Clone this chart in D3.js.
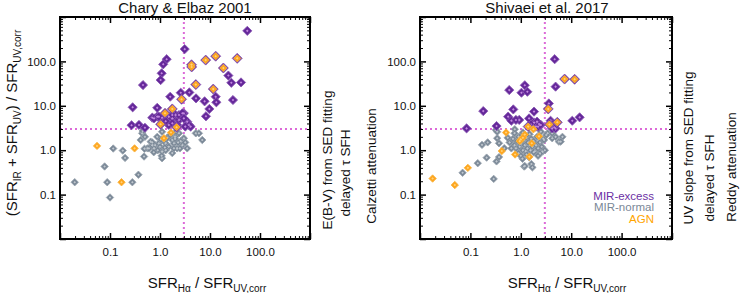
<!DOCTYPE html>
<html><head><meta charset="utf-8">
<script src="https://cdn.jsdelivr.net/npm/d3@7/dist/d3.min.js"></script>
<style>
body{margin:0;background:#fff;}
text{font-family:"Liberation Sans",Arial,Helvetica,sans-serif;fill:#111;}
</style></head><body>
<svg id="c" width="740" height="293"></svg>
<script>
// ---------- DATA ----------
const titles = ["Chary & Elbaz 2001", "Shivaei et al. 2017"];
const tickValuesMajor = [0.01, 0.1, 1, 10, 100, 1000];
const tickLabels = [0.1, 1, 10, 100];
const legendLabels = ["MIR-excess", "MIR-normal", "AGN"];
const sideLabelsLeft = ["E(B-V) from SED fitting", "delayed \u03c4 SFH", "Calzetti attenuation"];
const sideLabelsRight = ["UV slope from SED fitting", "delayed \u03c4 SFH", "Reddy attenuation"];
const thresholdX = 3, thresholdY = 3;

// Chary & Elbaz panel
const ceExcessX = [55.7,3.12,1.36,1.16,1.08,1.03,0.457,0.284,0.88,1.6,2.6,3.86,5.25,7.8,9.7,8.3,13,13.4,23.3,26.7,41.7,28.8,0.27,0.38,0.5,0.70,0.88,1.1,1.5,2.06,3.0,1.76,2.4,3.5,3.8,4.1,3.2,1.5,0.76,0.95,1.76,2.4,2.8,3.0,1.76,1.3,2.2];
const ceExcessY = [487,189,112,86,54,38,29.3,9.25,9.0,16,19.7,20,14.7,12.6,8.5,5.8,16,12,48,33,33.6,13.5,3.65,3.7,3.2,5.4,5.7,5.4,5.7,6.2,6.8,5.2,4.8,4.4,3.7,3.4,3.4,3.7,5.2,5.7,6.2,6.2,6.8,5.2,4.05,4.5,3.7];
const ceAgnExcessX = [4.27,4.3,8.2,13,35,18.5,5.2,11.6,2.7,1.76,1.26,1.03,2.15];
const ceAgnExcessY = [84,75,107,131,117,71,30,23.8,14,8.5,6.8,3.84,3.3];
const ceAgnNormalX = [1.66,1.2,0.055,0.31,0.17];
const ceAgnNormalY = [2.5,1.86,1.25,1.1,0.19];
const ceNormalX = [0.0197,0.088,0.28,0.078,0.1,0.37,0.116,0.18,0.2,0.48,0.49,0.44,0.5,0.41,0.65,0.88,0.95,0.56,0.76,1.1,1.1,1.08,1.76,1.9,2.2,1.76,3.0,3.5,5.2,6.0,7.0,2.4,1.3,1.5,0.6,0.7,0.8,1.0,1.2,1.4,2.0,2.6,2.8,2.3,1.6,1.1,0.9,1.3,0.7,2.5,2.0,3.2,1.9,0.45,0.75,1.05,1.25,2.1];
const ceNormalY = [0.19,0.19,0.19,0.43,0.086,0.28,1.09,0.98,0.67,0.72,1.08,2.4,2.0,1.7,1.56,2.0,1.43,1.1,1.1,0.93,0.66,0.75,1.7,1.43,1.1,0.86,1.86,1.1,2.4,2.4,1.7,2.4,1.43,1.2,1.1,1.3,1.3,1.2,1.6,1.9,2.0,1.6,1.3,1.5,2.2,2.6,1.0,1.0,1.5,1.1,1.8,1.5,1.1,2.7,0.9,1.75,1.15,2.6];

// Shivaei panel
const shExcessX = [4.7,4.9,1.2,1.03,1.35,0.59,0.18,0.71,1.83,3.6,0.56,0.65,0.93,1.46,1.83,2.3,3.9,4.2,4.9,10.5,14.7,0.084,0.33,0.8,2.1,2.5,4.6,1.6,2.0,2.2,2.4,4.0];
const shExcessY = [112,27,29,19.7,20.7,22.6,7.6,8.3,7.4,11.3,5.7,4.6,4.8,5.2,4.2,3.9,4.6,3.1,3.1,4.6,5.5,3.1,3.5,4.8,4.4,3.7,3.3,3.8,3.4,3.4,3.7,4.0];
const shAgnExcessX = [7.4,11.7,3.5,3.7,5.3,1.4];
const shAgnExcessY = [40,39.5,8.5,3.8,4.25,3.4];
const shAgnNormalX = [1.78,0.51,1.2,2.3,1.0,1.65,0.0178,0.049,0.089,0.42,0.77,1.48,0.95,1.1];
const shAgnNormalY = [2.96,2.5,2.25,2.05,1.75,1.43,0.23,0.164,0.40,0.96,0.80,0.71,1.6,1.9];
const shNormalX = [0.07,0.14,0.21,0.29,0.33,0.37,1.16,1.62,1.7,1.08,2.7,5.7,0.17,0.22,0.34,0.37,0.47,0.32,4.2,4.9,6.7,6.2,3.4,1.2,0.6,0.7,0.75,0.8,0.85,0.9,0.95,1.0,1.05,1.1,1.15,1.2,1.25,1.3,1.35,1.4,1.5,1.55,1.6,1.7,1.8,1.9,2.0,2.1,2.2,2.4,2.6,2.8,3.0,3.2,0.65,0.9,1.3,1.8,2.4,0.55,1.1,2.5,2.2,0.75,1.45,1.0,0.76,0.34,2.9,4.2];
const shNormalY = [0.31,0.51,0.68,0.226,0.56,0.70,0.43,0.49,0.41,0.64,0.93,1.56,1.32,1.5,1.86,1.43,1.11,2.86,1.86,2.0,2.0,1.56,2.4,0.44,1.5,1.8,1.3,1.1,1.6,2.0,1.2,1.4,2.2,1.0,1.7,1.3,0.95,1.9,1.1,1.5,2.3,1.0,1.8,1.2,1.6,0.95,1.3,2.0,1.1,1.5,1.2,1.8,1.0,2.2,1.1,0.85,0.8,0.9,0.85,1.9,2.5,2.6,0.75,2.4,0.7,0.75,2.96,2.6,1.7,2.4];

// ---------- DRAW ----------
const svg = d3.select("#c");
const COL = {excess:"#65289a", excessEdge:"#8a58b4", excessDot:"#c48ae0",
             normal:"#7a8897", normalEdge:"#98a3ae", normalDot:"#c0c7ce",
             agn:"#ffa51c", agnEdge:"#f7b545", agnDot:"#ffd27a",
             dotted:"#dc6ad8"};
const yTop = 17, yBot = 239;
const panels = [
  {x0:60, x1:310, title:titles[0], tx:185, xlab:207, side:sideLabelsLeft, sideX:[332,350,376], sideY:[160,173,166],
   ex:[ceExcessX,ceExcessY], ae:[ceAgnExcessX,ceAgnExcessY], an:[ceAgnNormalX,ceAgnNormalY], nm:[ceNormalX,ceNormalY]},
  {x0:420, x1:672, title:titles[1], tx:547, xlab:567, side:sideLabelsRight, sideX:[693,714,736], sideY:[148,178,167],
   ex:[shExcessX,shExcessY], ae:[shAgnExcessX,shAgnExcessY], an:[shAgnNormalX,shAgnNormalY], nm:[shNormalX,shNormalY]}
];
const minor = [];
[0.01,0.1,1,10,100].forEach(d=>{for(let k=2;k<=9;k++) minor.push(d*k);});
const fmt = d3.format(".1f");

function markers(g, xs, ys, x, y, r, fill, edge, dot){
  const pts = xs.map((v,i)=>[v, ys[i]]);
  const sym = d3.symbol().type(d3.symbolSquare).size(2*r*r);
  const sd = d3.symbol().type(d3.symbolSquare).size(2*1.3*1.3);
  const gg = g.append("g");
  gg.selectAll("path.m").data(pts).join("path").attr("class","m")
    .attr("d", sym).attr("fill", fill).attr("stroke", edge).attr("stroke-width",0.8)
    .attr("transform", d=>`translate(${x(d[0])},${y(d[1])}) rotate(45)`);
  gg.selectAll("path.c").data(pts).join("path").attr("class","c")
    .attr("d", sd).attr("fill", dot)
    .attr("transform", d=>`translate(${x(d[0])},${y(d[1])}) rotate(45)`);
}

panels.forEach((p, pi)=>{
  const x = d3.scaleLog().domain([0.01,1000]).range([p.x0, p.x1]);
  const y = d3.scaleLog().domain([0.01,1000]).range([yBot, yTop]);
  const g = svg.append("g");
  const clip = "clip"+pi;
  svg.append("clipPath").attr("id",clip).append("rect")
     .attr("x",p.x0).attr("y",yTop).attr("width",p.x1-p.x0).attr("height",yBot-yTop);
  const pg = g.append("g").attr("clip-path",`url(#${clip})`);

  pg.append("line").attr("x1",x(thresholdX)).attr("x2",x(thresholdX)).attr("y1",yTop).attr("y2",yBot)
    .attr("stroke",COL.dotted).attr("stroke-width",2).attr("stroke-dasharray","2,3");
  pg.append("line").attr("x1",p.x0).attr("x2",p.x1).attr("y1",y(thresholdY)).attr("y2",y(thresholdY))
    .attr("stroke",COL.dotted).attr("stroke-width",2).attr("stroke-dasharray","2,3");

  markers(pg, p.nm[0], p.nm[1], x, y, 3.7, COL.normal, COL.normalEdge, COL.normalDot);
  markers(pg, p.ex[0], p.ex[1], x, y, 4.6, COL.excess, COL.excessEdge, COL.excessDot);
  markers(pg, p.ae[0], p.ae[1], x, y, 5.0, COL.excess, COL.excessEdge, COL.excessDot);
  markers(pg, p.ae[0], p.ae[1], x, y, 3.6, COL.agn, COL.agnEdge, COL.agnDot);
  markers(pg, p.an[0], p.an[1], x, y, 3.7, COL.agn, COL.agnEdge, COL.agnDot);

  const axStyle = (sel)=>{ sel.select(".domain").remove(); sel.selectAll("line").attr("stroke","#000"); };
  const lab = d=> tickLabels.includes(d) ? fmt(d) : "";
  const txtStyle = s=>s.selectAll("text").attr("font-size","11.5px").attr("fill","#111").style("font-family","Liberation Sans, Arial, sans-serif");
  g.append("g").attr("transform",`translate(0,${yBot})`)
    .call(d3.axisBottom(x).tickValues(tickValuesMajor).tickSize(-6).tickPadding(9).tickFormat(lab))
    .call(axStyle).call(s=>s.selectAll("line").attr("stroke-width",1.5)).call(txtStyle);
  g.append("g").attr("transform",`translate(0,${yBot})`)
    .call(d3.axisBottom(x).tickValues(minor).tickSize(-3).tickFormat(""))
    .call(axStyle);
  g.append("g").attr("transform",`translate(0,${yTop})`)
    .call(d3.axisTop(x).tickValues(tickValuesMajor).tickSize(-6).tickFormat(""))
    .call(axStyle).call(s=>s.selectAll("line").attr("stroke-width",1.5));
  g.append("g").attr("transform",`translate(0,${yTop})`)
    .call(d3.axisTop(x).tickValues(minor).tickSize(-3).tickFormat(""))
    .call(axStyle);
  g.append("g").attr("transform",`translate(${p.x0},0)`)
    .call(d3.axisLeft(y).tickValues(tickValuesMajor).tickSize(-6).tickPadding(4).tickFormat(lab))
    .call(axStyle).call(s=>s.selectAll("line").attr("stroke-width",1.5)).call(txtStyle);
  g.append("g").attr("transform",`translate(${p.x0},0)`)
    .call(d3.axisLeft(y).tickValues(minor).tickSize(-3).tickFormat(""))
    .call(axStyle);
  g.append("g").attr("transform",`translate(${p.x1},0)`)
    .call(d3.axisRight(y).tickValues(tickValuesMajor).tickSize(-6).tickFormat(""))
    .call(axStyle).call(s=>s.selectAll("line").attr("stroke-width",1.5));
  g.append("g").attr("transform",`translate(${p.x1},0)`)
    .call(d3.axisRight(y).tickValues(minor).tickSize(-3).tickFormat(""))
    .call(axStyle);

  g.append("rect").attr("x",p.x0).attr("y",yTop).attr("width",p.x1-p.x0).attr("height",yBot-yTop)
    .attr("fill","none").attr("stroke","#000").attr("stroke-width",2);

  g.append("text").attr("x",p.tx).attr("y",12.5).attr("text-anchor","middle")
    .attr("font-size","15px").text(p.title);

  const xl = g.append("text").attr("x",p.xlab).attr("y",288).attr("text-anchor","middle").attr("font-size","15px");
  xl.append("tspan").text("SFR");
  xl.append("tspan").attr("font-size","10px").attr("dy",3.5).text("H\u03b1");
  xl.append("tspan").attr("dy",-3.5).text(" / SFR");
  xl.append("tspan").attr("font-size","10px").attr("dy",3.5).text("UV,corr");

  p.side.forEach((s,i)=>{
    g.append("text").attr("transform",`translate(${p.sideX[i]},${p.sideY[i]}) rotate(-90)`)
      .attr("text-anchor","middle").attr("font-size","13.5px").text(s);
  });
});

const yl = svg.append("text").attr("transform","translate(17,123) rotate(-90)")
  .attr("text-anchor","middle").attr("font-size","15px");
yl.append("tspan").text("(SFR");
yl.append("tspan").attr("font-size","10px").attr("dy",3.5).text("IR");
yl.append("tspan").attr("dy",-3.5).text(" + SFR");
yl.append("tspan").attr("font-size","10px").attr("dy",3.5).text("UV");
yl.append("tspan").attr("dy",-3.5).text(") / SFR");
yl.append("tspan").attr("font-size","10px").attr("dy",3.5).text("UV,corr");

const legCols = ["#6c2fa4", COL.normal, "#ffa500"];
legendLabels.forEach((t,i)=>{
  svg.append("text").attr("x",654).attr("y",199.5 + i*11.7).attr("text-anchor","end")
    .attr("font-size","11.5px").style("fill", legCols[i]).text(t);
});
</script>
</body></html>
